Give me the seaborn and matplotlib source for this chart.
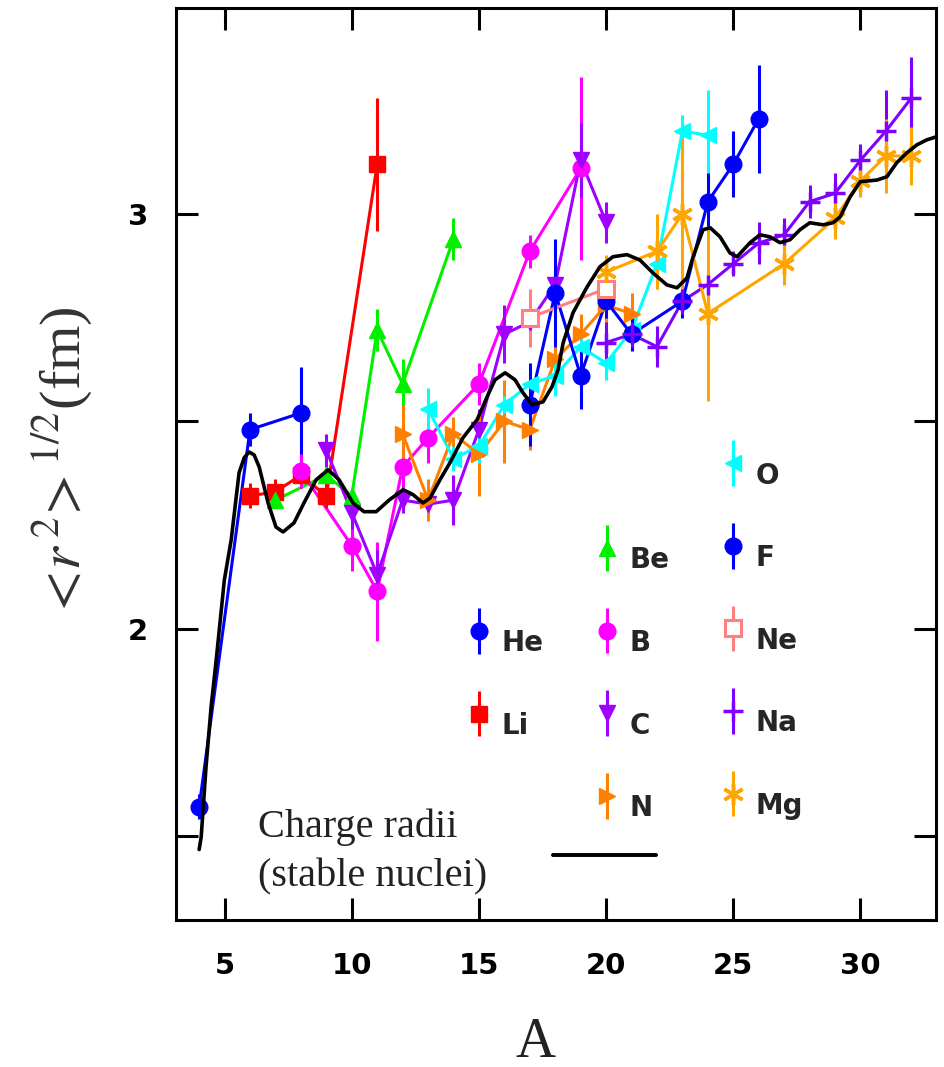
import numpy as np
import pandas as pd
import matplotlib
matplotlib.use("Agg")
import matplotlib.pyplot as plt
import seaborn as sns
from matplotlib.container import ErrorbarContainer
from matplotlib.legend_handler import HandlerErrorbar
from matplotlib.lines import Line2D

# rms matter radii <r^2>^1/2 (fm) of light nuclei against mass number A
he_a = [4, 6, 8]
he_r = [1.57, 2.48, 2.52]
he_e = [0.03, 0.04, 0.11]

li_a = [6, 7, 8, 9, 11]
li_r = [2.32, 2.33, 2.37, 2.32, 3.12]
li_e = [0.03, 0.03, 0.03, 0.03, 0.16]

be_a = [7, 9, 10, 11, 12, 14]
be_r = [2.31, 2.37, 2.32, 2.72, 2.59, 2.94]
be_e = [0.02, 0.02, 0.02, 0.05, 0.06, 0.05]

b_a = [8, 10, 11, 12, 13, 15, 17, 19]
b_r = [2.38, 2.20, 2.09, 2.39, 2.46, 2.59, 2.91, 3.11]
b_e = [0.04, 0.06, 0.12, 0.05, 0.06, 0.05, 0.04, 0.22]

c_a = [9, 10, 11, 12, 13, 14, 15, 16, 17, 18, 19, 20]
c_r = [2.43, 2.28, 2.13, 2.31, 2.30, 2.31, 2.48, 2.71, 2.74, 2.83, 3.13, 2.98]
c_e = [0.04, 0.04, 0.06, 0.03, 0.03, 0.06, 0.05, 0.07, 0.03, 0.04, 0.09, 0.05]

n_a = [12, 13, 14, 15, 16, 17, 18, 19, 20, 21]
n_r = [2.47, 2.31, 2.47, 2.42, 2.50, 2.48, 2.65, 2.71, 2.78, 2.76]
n_e = [0.07, 0.05, 0.04, 0.10, 0.10, 0.05, 0.07, 0.05, 0.05, 0.05]

o_a = [13, 14, 15, 16, 17, 18, 19, 20, 21, 22, 23, 24]
o_r = [2.53, 2.41, 2.44, 2.54, 2.59, 2.61, 2.68, 2.64, 2.72, 2.88, 3.20, 3.19]
o_e = [0.05, 0.03, 0.04, 0.02, 0.04, 0.05, 0.03, 0.04, 0.03, 0.06, 0.04, 0.11]

f_a = [17, 18, 19, 20, 21, 23, 24, 25, 26]
f_r = [2.54, 2.81, 2.61, 2.79, 2.71, 2.79, 3.03, 3.12, 3.23]
f_e = [0.10, 0.13, 0.08, 0.04, 0.04, 0.04, 0.07, 0.08, 0.13]

ne_a = [17, 20]
ne_r = [2.75, 2.82]
ne_e = [0.07, 0.03]

na_a = [20, 21, 22, 23, 24, 25, 26, 27, 28, 29, 30, 31, 32]
na_r = [2.69, 2.71, 2.68, 2.79, 2.83, 2.88, 2.93, 2.95, 3.03, 3.05, 3.13, 3.20, 3.28]
na_e = [0.05, 0.03, 0.05, 0.03, 0.03, 0.03, 0.05, 0.04, 0.04, 0.05, 0.04, 0.10, 0.10]

mg_a = [20, 22, 23, 24, 27, 29, 30, 31, 32]
mg_r = [2.86, 2.91, 3.00, 2.76, 2.88, 2.99, 3.08, 3.14, 3.14]
mg_e = [0.04, 0.09, 0.18, 0.21, 0.05, 0.05, 0.04, 0.09, 0.07]

# charge radii of stable nuclei (the black curve)
chg_a = [4.00, 4.08, 4.27, 4.47, 4.67, 4.86, 4.99, 5.26, 5.57, 5.77, 5.96, 6.16,
         6.36, 6.71, 7.02, 7.30, 7.73, 8.12, 8.60, 9.07, 9.50, 10.05, 10.48, 10.96,
         11.47, 12.02, 12.41, 12.80, 13.08, 13.47, 13.86, 14.37, 14.93, 15.32, 15.63,
         16.03, 16.42, 16.73, 17.09, 17.52, 17.87, 18.11, 18.31, 18.70, 19.25, 19.76,
         20.27, 20.82, 21.33, 21.84, 22.39, 22.79, 23.18, 23.42, 23.81, 24.09, 24.48,
         24.87, 25.15, 25.66, 26.05, 26.44, 26.84, 27.23, 27.62, 28.01, 28.53, 28.92,
         29.20, 29.59, 29.99, 30.65, 31.04, 31.43, 31.83, 32.22, 32.61, 32.97]
chg_r = [1.467, 1.497, 1.666, 1.811, 1.924, 2.038, 2.117, 2.214, 2.376, 2.412, 2.426, 2.419,
         2.390, 2.303, 2.245, 2.233, 2.255, 2.303, 2.359, 2.383, 2.359, 2.303, 2.282, 2.282,
         2.310, 2.335, 2.323, 2.303, 2.315, 2.359, 2.400, 2.460, 2.504, 2.559, 2.600,
         2.617, 2.600, 2.569, 2.540, 2.547, 2.583, 2.624, 2.689, 2.762, 2.824, 2.873,
         2.897, 2.902, 2.889, 2.858, 2.829, 2.822, 2.846, 2.897, 2.962, 2.967, 2.945,
         2.906, 2.897, 2.931, 2.950, 2.945, 2.931, 2.938, 2.962, 2.979, 2.974, 2.979,
         2.993, 3.041, 3.078, 3.082, 3.090, 3.124, 3.148, 3.167, 3.179, 3.186]

elements = ["He", "Li", "Be", "B", "C", "N", "O", "F", "Ne", "Na", "Mg"]
data = {
    "He": (he_a, he_r, he_e), "Li": (li_a, li_r, li_e), "Be": (be_a, be_r, be_e),
    "B": (b_a, b_r, b_e), "C": (c_a, c_r, c_e), "N": (n_a, n_r, n_e),
    "O": (o_a, o_r, o_e), "F": (f_a, f_r, f_e), "Ne": (ne_a, ne_r, ne_e),
    "Na": (na_a, na_r, na_e), "Mg": (mg_a, mg_r, mg_e),
}
colors = {"He": "#0000ff", "Li": "#ff0000", "Be": "#00f000", "B": "#ff00ff",
          "C": "#a000ff", "N": "#ff8000", "O": "#00ffff", "F": "#0000ff",
          "Ne": "#ff8080", "Na": "#8000ff", "Mg": "#ffa500"}
markers = {"He": "o", "Li": "s", "Be": "^", "B": "o", "C": "v", "N": ">",
           "O": "<", "F": "o", "Ne": "s", "Na": "+", "Mg": (6, 2, 0)}

rows = []
for el in elements:
    a, r, e = data[el]
    for ai, ri in zip(a, r):
        rows.append({"el": el, "A": ai, "r": ri})
df = pd.DataFrame(rows)

sns.set_theme(style="ticks")
plt.rcParams["mathtext.fontset"] = "stix"
plt.rcParams["font.family"] = ["DejaVu Sans"]

fig = plt.figure(figsize=(9.44, 10.67), dpi=100)
ax = fig.add_axes([176 / 944, 1 - 920 / 1067, 760 / 944, 912 / 1067])

# connecting lines
sns.lineplot(data=df, x="A", y="r", hue="el", palette=colors, hue_order=elements,
             estimator=None, sort=True, legend=False, lw=2.2, ax=ax)

conts = {}
for el in elements:
    a, r, e = data[el]
    col = colors[el]
    ms = 12
    mew = 1.0
    mfc = col
    if el == "Ne":
        mfc = "white"
        mew = 2.2
        ms = 11
    if el in ("Na", "Mg"):
        ms = 15
        mew = 2.5
    conts[el] = ax.errorbar(a, r, yerr=e, marker=markers[el], linestyle="none", color=col,
                            ms=ms, mfc=mfc, mec=col, mew=mew, elinewidth=2.2,
                            capsize=0, zorder=3)

# stable nuclei charge radii
sns.lineplot(x=chg_a, y=chg_r, color="black", lw=2.6, sort=False, estimator=None,
             ax=ax, zorder=6)

ax.set_xlim(3.09, 32.97)
ax.set_ylim(1.297, 3.497)
ax.set_xticks([5, 10, 15, 20, 25, 30])
ax.set_yticks([1.5, 2, 2.5, 3])
ax.set_yticklabels(["", "2", "", "3"])
ax.set_xlabel("")
ax.set_ylabel("")
for s in ax.spines.values():
    s.set_visible(True)
    s.set_linewidth(2.2)
    s.set_color("black")
ax.tick_params(direction="in", length=16, width=2.2, top=True, right=True,
               labelsize=21, colors="black")
ax.tick_params(axis="x", pad=23)
ax.tick_params(axis="y", pad=20)
for lab in ax.get_xticklabels() + ax.get_yticklabels():
    lab.set_fontweight("bold")

# legend, three columns
handler = {ErrorbarContainer: HandlerErrorbar(xerr_size=0.0, yerr_size=0.82)}
prop = dict(family="DejaVu Sans", weight="bold", size=20)
cols = [(["He", "Li"], 0.362, 0.347),
        (["Be", "B", "C", "N"], 0.530, 0.438),
        (["O", "F", "Ne", "Na", "Mg"], 0.696, 0.531)]
for names, lx, ly in cols:
    leg = ax.legend([conts[n] for n in names], names, loc="upper left",
                    bbox_to_anchor=(lx, ly), frameon=False, borderpad=0,
                    handlelength=1.0, handleheight=1.6, handletextpad=0.32,
                    labelspacing=1.69, prop=prop, handler_map=handler, numpoints=1)
    for t in leg.get_texts():
        t.set_position((0, -7))
    ax.add_artist(leg)

leg = ax.legend([Line2D([], [], color="black", lw=2.6)], [""], loc="center",
                bbox_to_anchor=(0.564, 0.069), frameon=False, borderpad=0,
                handlelength=3.7, handletextpad=0, prop=prop)
ax.add_artist(leg)

ax.text(0.108, 0.1228, "Charge radii\n(stable nuclei)", transform=ax.transAxes,
        ha="left", va="top", fontsize=29, family="Liberation Serif",
        color="#222222", linespacing=1.45)

fig.text(63 / 944, 1 - 463 / 1067, r"$<\!r^{\,2}\!>^{1/2}$(fm)", rotation=90,
         ha="center", va="center", fontsize=42, family="Liberation Serif",
         color="#333333")
fig.text(535 / 944, 1 - 1043 / 1067, "A", ha="center", va="center", fontsize=40,
         family="Liberation Serif", color="#222222")

fig.savefig("out.png", dpi=100)
